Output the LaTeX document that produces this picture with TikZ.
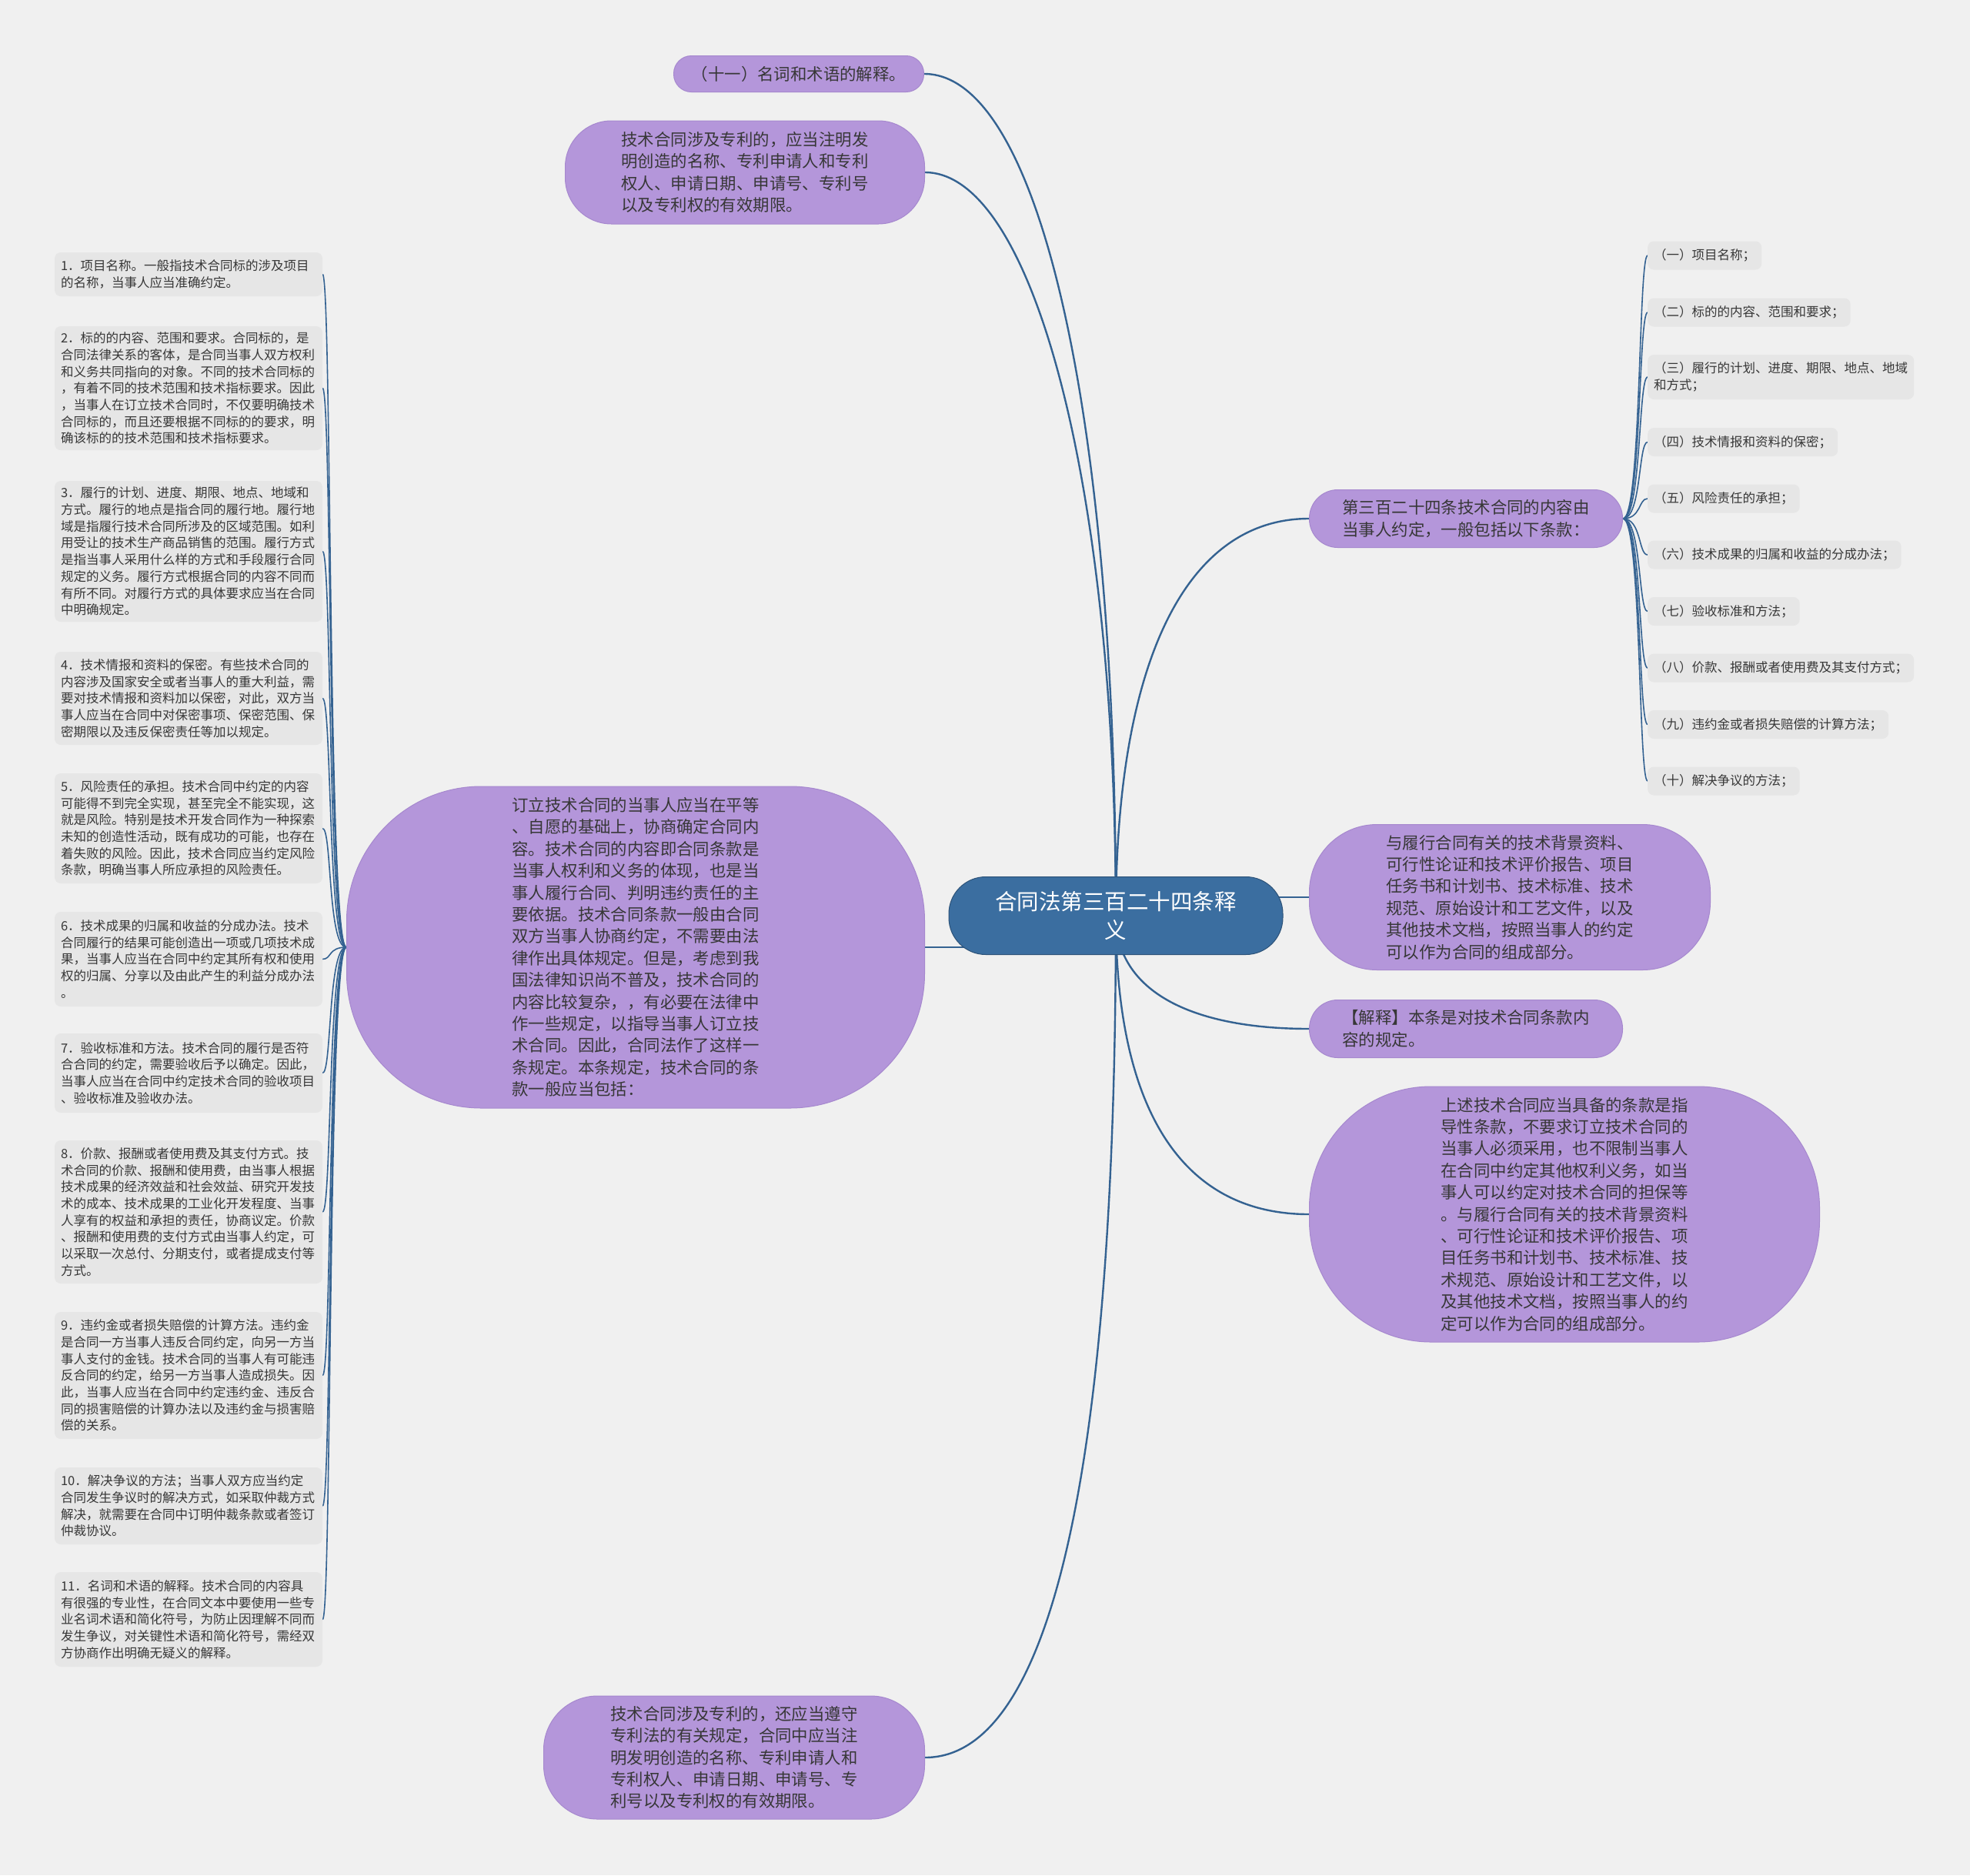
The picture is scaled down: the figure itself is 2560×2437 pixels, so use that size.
\documentclass[tikz,border=0pt]{standalone}
\usepackage{fontspec}
\setmainfont{Noto Sans CJK SC}
\usepackage{xcolor}
\usepackage{tikz}

\definecolor{bggray}{RGB}{240,240,240}
\definecolor{leafgray}{RGB}{230,230,230}
\definecolor{topicfill}{RGB}{180,150,218}
\definecolor{topicline}{RGB}{166,136,206}
\definecolor{rootfill}{RGB}{59,110,160}
\definecolor{linkblue}{RGB}{52,98,145}
\definecolor{inkgray}{RGB}{55,55,55}

\pgfdeclarelayer{links}
\pgfsetlayers{links,main}

\begin{document}
\begin{tikzpicture}[x=1pt, y=-1pt]
      \tikzstyle{root} = [rectangle, draw=rootfill!75!black, fill=rootfill, text=white, align=center, rounded corners=48pt, minimum width=434pt, minimum height=101pt, line width=1pt, font=\fontsize{28.5}{37.5}\selectfont]
      \tikzstyle{topic} = [rectangle, draw=topicline, fill=topicfill, text=inkgray, align=left, inner sep=0pt, line width=1pt, font=\fontsize{21.4}{28.4}\selectfont]
      \tikzstyle{leaf} = [rectangle, fill=leafgray, text=inkgray, align=left, rounded corners=8pt, inner xsep=8pt, inner ysep=0pt, font=\fontsize{16.5}{21.7}\selectfont]
      \tikzstyle{lleaf} = [leaf, text width=332pt]
      \tikzstyle{rleaf} = [leaf, anchor=west, minimum height=37pt]
      \tikzstyle{link} = [draw=linkblue, line width=2.4pt]
      \tikzstyle{twig} = [draw=linkblue, line width=1.6pt]
      % centre
      \node[root] (root) at (1450,1190) {合同法第三百二十四条释\\义};
      % topics, left side
      \node[topic, minimum width=325pt, minimum height=47pt, rounded corners=23pt] (term) at (1038,96) {（十一）名词和术语的解释。};
      \node[topic, minimum width=467pt, minimum height=134pt, rounded corners=60pt] (patent) at (968,224) {技术合同涉及专利的，应当注明发\\明创造的名称、专利申请人和专利\\权人、申请日期、申请号、专利号\\以及专利权的有效期限。};
      \node[topic, minimum width=751pt, minimum height=418pt, rounded corners=175pt] (plan) at (826,1231) {订立技术合同的当事人应当在平等\\、自愿的基础上，协商确定合同内\\容。技术合同的内容即合同条款是\\当事人权利和义务的体现，也是当\\事人履行合同、判明违约责任的主\\要依据。技术合同条款一般由合同\\双方当事人协商约定，不需要由法\\律作出具体规定。但是，考虑到我\\国法律知识尚不普及，技术合同的\\内容比较复杂，，有必要在法律中\\作一些规定，以指导当事人订立技\\术合同。因此，合同法作了这样一\\条规定。本条规定，技术合同的条\\款一般应当包括：};
      \node[topic, minimum width=495pt, minimum height=160pt, rounded corners=70pt] (patentlaw) at (954,2284) {技术合同涉及专利的，还应当遵守\\专利法的有关规定，合同中应当注\\明发明创造的名称、专利申请人和\\专利权人、申请日期、申请号、专\\利号以及专利权的有效期限。};
      % topics, right side
      \node[topic, minimum width=407pt, minimum height=75pt, rounded corners=37pt] (clause) at (1905,674) {第三百二十四条技术合同的内容由\\当事人约定，一般包括以下条款：};
      \node[topic, minimum width=521pt, minimum height=189pt, rounded corners=88pt] (attach) at (1962,1166) {与履行合同有关的技术背景资料、\\可行性论证和技术评价报告、项目\\任务书和计划书、技术标准、技术\\规范、原始设计和工艺文件，以及\\其他技术文档，按照当事人的约定\\可以作为合同的组成部分。};
      \node[topic, minimum width=407pt, minimum height=75pt, rounded corners=37pt] (note) at (1905,1337) {【解释】本条是对技术合同条款内\\容的规定。};
      \node[topic, minimum width=663pt, minimum height=332pt, rounded corners=158pt] (guide) at (2033,1578) {上述技术合同应当具备的条款是指\\导性条款，不要求订立技术合同的\\当事人必须采用，也不限制当事人\\在合同中约定其他权利义务，如当\\事人可以约定对技术合同的担保等\\。与履行合同有关的技术背景资料\\、可行性论证和技术评价报告、项\\目任务书和计划书、技术标准、技\\术规范、原始设计和工艺文件，以\\及其他技术文档，按照当事人的约\\定可以作为合同的组成部分。};
      % explanations of the clauses
      \node[lleaf, minimum height=57pt] (l1) at (245,356.5) {1．项目名称。一般指技术合同标的涉及项目\\的名称，当事人应当准确约定。};
      \node[lleaf, minimum height=161pt] (l2) at (245,504.5) {2．标的的内容、范围和要求。合同标的，是\\合同法律关系的客体，是合同当事人双方权利\\和义务共同指向的对象。不同的技术合同标的\\，有着不同的技术范围和技术指标要求。因此\\，当事人在订立技术合同时，不仅要明确技术\\合同标的，而且还要根据不同标的的要求，明\\确该标的的技术范围和技术指标要求。};
      \node[lleaf, minimum height=183pt] (l3) at (245,716.5) {3．履行的计划、进度、期限、地点、地域和\\方式。履行的地点是指合同的履行地。履行地\\域是指履行技术合同所涉及的区域范围。如利\\用受让的技术生产商品销售的范围。履行方式\\是指当事人采用什么样的方式和手段履行合同\\规定的义务。履行方式根据合同的内容不同而\\有所不同。对履行方式的具体要求应当在合同\\中明确规定。};
      \node[lleaf, minimum height=121pt] (l4) at (245,907.5) {4．技术情报和资料的保密。有些技术合同的\\内容涉及国家安全或者当事人的重大利益，需\\要对技术情报和资料加以保密，对此，双方当\\事人应当在合同中对保密事项、保密范围、保\\密期限以及违反保密责任等加以规定。};
      \node[lleaf, minimum height=143pt] (l5) at (245,1076.5) {5．风险责任的承担。技术合同中约定的内容\\可能得不到完全实现，甚至完全不能实现，这\\就是风险。特别是技术开发合同作为一种探索\\未知的创造性活动，既有成功的可能，也存在\\着失败的风险。因此，技术合同应当约定风险\\条款，明确当事人所应承担的风险责任。};
      \node[lleaf, minimum height=123pt] (l6) at (245,1246.5) {6．技术成果的归属和收益的分成办法。技术\\合同履行的结果可能创造出一项或几项技术成\\果，当事人应当在合同中约定其所有权和使用\\权的归属、分享以及由此产生的利益分成办法\\。};
      \node[lleaf, minimum height=103pt] (l7) at (245,1394.5) {7．验收标准和方法。技术合同的履行是否符\\合合同的约定，需要验收后予以确定。因此，\\当事人应当在合同中约定技术合同的验收项目\\、验收标准及验收办法。};
      \node[lleaf, minimum height=186pt] (l8) at (245,1575) {8．价款、报酬或者使用费及其支付方式。技\\术合同的价款、报酬和使用费，由当事人根据\\技术成果的经济效益和社会效益、研究开发技\\术的成本、技术成果的工业化开发程度、当事\\人享有的权益和承担的责任，协商议定。价款\\、报酬和使用费的支付方式由当事人约定，可\\以采取一次总付、分期支付，或者提成支付等\\方式。};
      \node[lleaf, minimum height=165pt] (l9) at (245,1787.5) {9．违约金或者损失赔偿的计算方法。违约金\\是合同一方当事人违反合同约定，向另一方当\\事人支付的金钱。技术合同的当事人有可能违\\反合同的约定，给另一方当事人造成损失。因\\此，当事人应当在合同中约定违约金、违反合\\同的损害赔偿的计算办法以及违约金与损害赔\\偿的关系。};
      \node[lleaf, minimum height=100pt] (l10) at (245,1957) {10．解决争议的方法；当事人双方应当约定\\合同发生争议时的解决方式，如采取仲裁方式\\解决，就需要在合同中订明仲裁条款或者签订\\仲裁协议。};
      \node[lleaf, minimum height=123pt] (l11) at (245,2104.5) {11．名词和术语的解释。技术合同的内容具\\有很强的专业性，在合同文本中要使用一些专\\业名词术语和简化符号，为防止因理解不同而\\发生争议，对关键性术语和简化符号，需经双\\方协商作出明确无疑义的解释。};
      % list of clauses
      \node[rleaf] (r1) at (2141,332) {（一）项目名称；};
      \node[rleaf] (r2) at (2141,406) {（二）标的的内容、范围和要求；};
      \node[rleaf, minimum height=58pt] (r3) at (2141,490) {（三）履行的计划、进度、期限、地点、地域\\和方式；};
      \node[rleaf] (r4) at (2141,574.5) {（四）技术情报和资料的保密；};
      \node[rleaf] (r5) at (2141,648) {（五）风险责任的承担；};
      \node[rleaf] (r6) at (2141,721) {（六）技术成果的归属和收益的分成办法；};
      \node[rleaf] (r7) at (2141,794.5) {（七）验收标准和方法；};
      \node[rleaf] (r8) at (2141,868) {（八）价款、报酬或者使用费及其支付方式；};
      \node[rleaf] (r9) at (2141,941.5) {（九）违约金或者损失赔偿的计算方法；};
      \node[rleaf] (r10) at (2141,1015) {（十）解决争议的方法；};
      % connectors under the nodes
      \begin{pgfonlayer}{links}
        \fill[bggray] (0,0) rectangle (2560,2437);
        \draw[link] (root.center) .. controls +(0,-650) and +(150,0) .. (term.east);
        \draw[link] (root.center) .. controls +(0,-560) and +(140,0) .. (patent.east);
        \draw[link] (plan.east) -- (plan.east -| root.center);
        \draw[link] (root.center) .. controls +(0,780) and +(150,0) .. (patentlaw.east);
        \draw[link] (root.center) .. controls +(0,-330) and +(-160,0) .. (clause.west);
        \draw[link] (attach.west) -- (attach.west -| root.center);
        \draw[link] (root.center) .. controls +(0,100) and +(-150,0) .. (note.west);
        \draw[link] (root.center) .. controls +(0,260) and +(-160,0) .. (guide.west);
        \foreach \i in {1,...,11}
          \draw[twig] (plan.west) .. controls +(-24,0) and +(12,0) .. (l\i.east);
        \foreach \i in {1,...,10}
          \draw[twig] (clause.east) .. controls +(24,0) and +(-12,0) .. (r\i.west);
      \end{pgfonlayer}
    \end{tikzpicture}
\end{document}
